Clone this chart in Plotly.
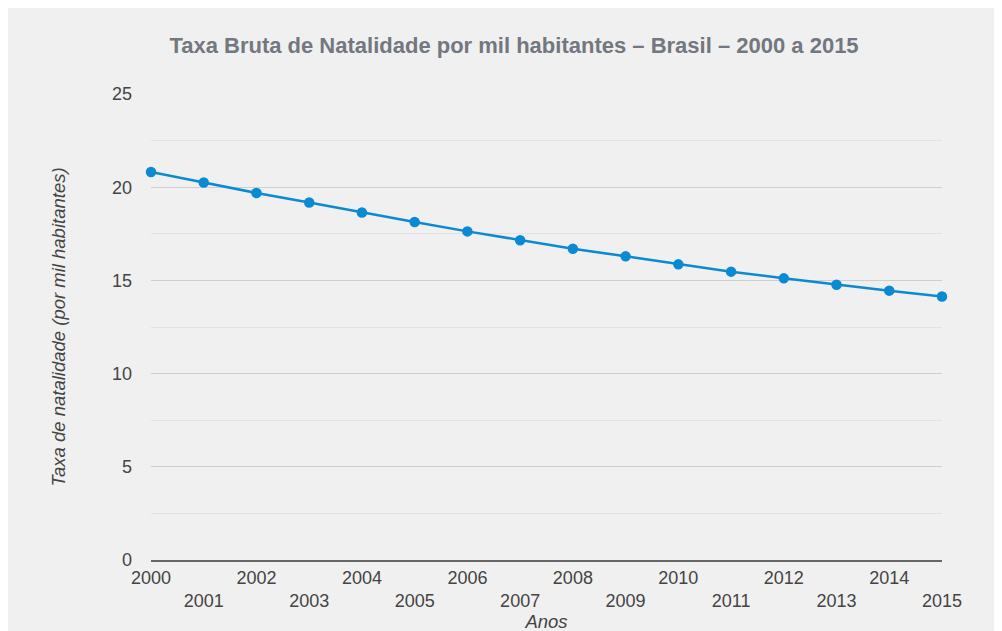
import plotly.graph_objects as go

anos = list(range(2000, 2016))
taxa = [20.82, 20.25, 19.69, 19.18, 18.64, 18.13, 17.63, 17.15,
        16.70, 16.29, 15.86, 15.47, 15.11, 14.77, 14.45, 14.14]
tick_text = [str(a) if a % 2 == 0 else "<br>" + str(a) for a in anos]
y_ticks = [0, 5, 10, 15, 20, 25]

titulo = "Taxa Bruta de Natalidade por mil habitantes – Brasil – 2000 a 2015"
titulo_y = "Taxa de natalidade (por mil habitantes)"
titulo_x = "Anos"

fig = go.Figure()
fig.add_trace(go.Scatter(
    x=anos, y=taxa, mode="lines+markers",
    line=dict(color="#0a8ad2", width=2.5),
    marker=dict(color="#0a8ad2", size=10.5),
    cliponaxis=False, showlegend=False,
))

fig.update_layout(
    width=1002, height=631,
    paper_bgcolor="#f0f0f0", plot_bgcolor="#f0f0f0",
    margin=dict(l=143, r=68, t=86, b=79, autoexpand=False),
    font=dict(family="Liberation Sans, Arial, sans-serif", color="#444444", size=18),
    title=dict(text="<b>" + titulo + "</b>", x=0.505, xanchor="center",
               y=0.941, yanchor="middle",
               font=dict(size=22, color="#737780")),
)

fig.update_xaxes(
    range=[2000, 2015], tickmode="array", tickvals=anos, ticktext=tick_text,
    showgrid=False, zeroline=False, showline=True, linecolor="#666666", linewidth=2,
    ticks="", ticklabelstandoff=0,
    tickfont=dict(size=18, color="#444444"),
    title=dict(text="<i>" + titulo_x + "</i>", font=dict(size=18.5, color="#444444"), standoff=0),
    automargin=False,
)
fig.update_yaxes(
    range=[0, 25], tickmode="array", tickvals=y_ticks,
    showgrid=True, gridcolor="#cfcfcf", gridwidth=1, zeroline=False,
    minor=dict(dtick=2.5, showgrid=True, gridcolor="#e2e2e2", gridwidth=1),
    ticks="", ticklabelstandoff=18,
    tickfont=dict(size=18, color="#444444"),
    title=dict(text="<i>" + titulo_y + "</i>", font=dict(size=18.5, color="#444444"), standoff=41),
    automargin=False,
)

fig.write_html("out.html")
